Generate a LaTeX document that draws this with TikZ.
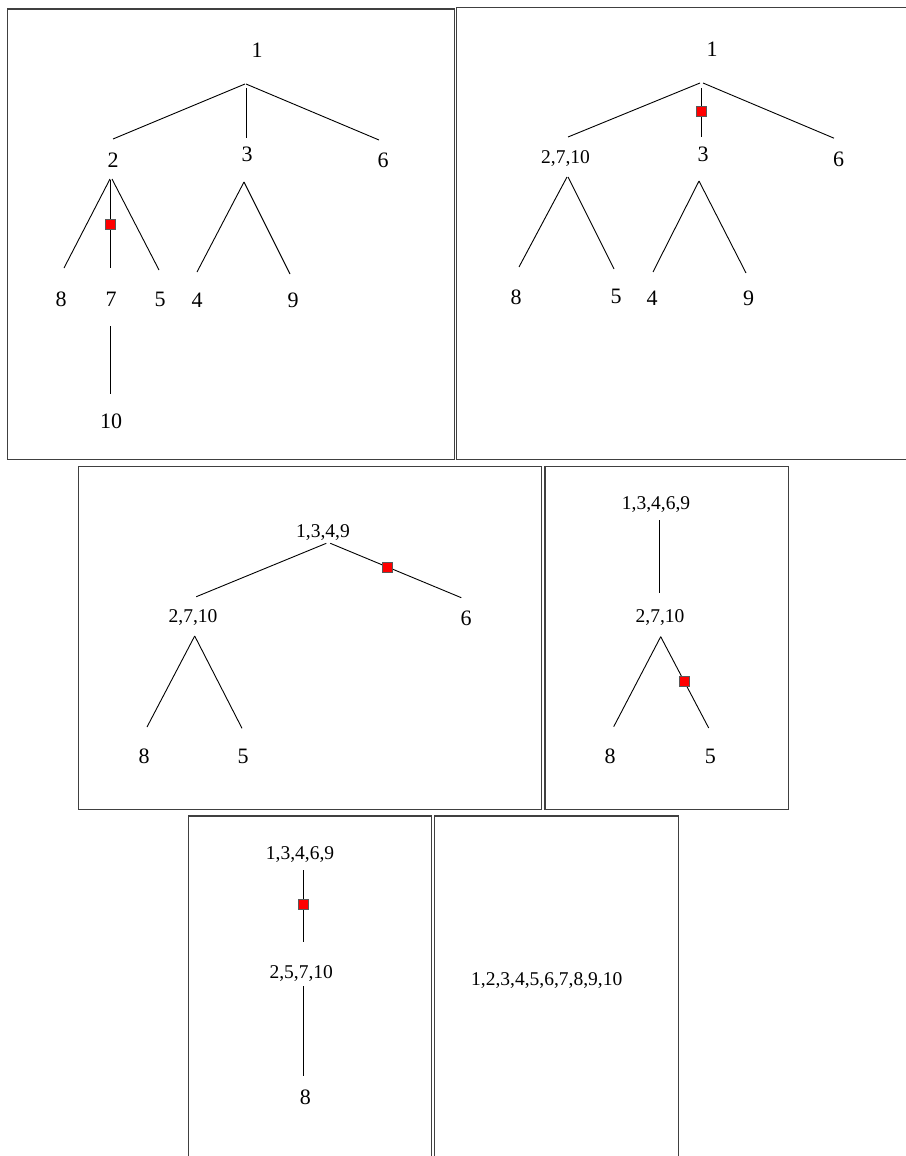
\documentclass[tikz,border=0pt]{standalone}
\usepackage{fontspec}
\setmainfont{Liberation Serif}
\usetikzlibrary{calc}
\begin{document}
\begin{tikzpicture}[x=1pt,y=-1pt,
  big/.style={inner sep=0pt, text height=14.9pt, text depth=0pt, font=\fontsize{22}{22}\selectfont},
  sml/.style={inner sep=0pt, text height=13.2pt, text depth=0pt, font=\fontsize{19.5}{19.5}\selectfont},
  edge/.style={draw=black, line width=0.9pt},
  frame/.style={draw=black!75, line width=1.2pt},
  redsq/.style={rectangle, draw=black!65, fill=red, line width=0.6pt, minimum size=10pt, inner sep=0pt}
]
\useasboundingbox (0,0) rectangle (905,1156);

% panel frames
\draw[frame] (7.5,9) rectangle (454.5,459.3);
\draw[frame] (456.7,7.3) rectangle (920,459.3);
\draw[frame] (78.3,466.7) rectangle (541.7,809.3);
\draw[frame] (545,466.7) rectangle (788.3,809.3);
\draw[frame] (188.3,816) rectangle (431.7,1170);
\draw[frame] (434.3,816) rectangle (678.3,1170);

% ---------- panel 1 ----------
\node[big] (a1) at (257,50) {1};
\node[big] (a2) at (113,160) {2};
\node[big] (a3) at (247,154) {3};
\node[big] (a6) at (383,160) {6};
\node[big] (a8) at (61,299) {8};
\node[big] (a7) at (111,299) {7};
\node[big] (a5) at (160,299) {5};
\node[big] (a4) at (197,300) {4};
\node[big] (a9) at (293,300) {9};
\node[big] (a10) at (111,421) {10};
\draw[edge] ($(a1)+(-12,34)$) -- ($(a2)+(0,-21)$);
\draw[edge] ($(a1)+(-11,38)$) -- ($(a3)+(-1,-16)$);
\draw[edge] ($(a1)+(-11,34)$) -- ($(a6)+(-4,-20)$);
\draw[edge] ($(a2)+(-3,19)$) -- ($(a8)+(3,-31)$);
\draw[edge] ($(a2)+(-3,20)$) -- node[redsq]{} ($(a7)+(-1,-31)$);
\draw[edge] ($(a2)+(-1,19)$) -- ($(a5)+(-1,-29)$);
\draw[edge] ($(a3)+(-3,28)$) -- ($(a4)+(0,-28)$);
\draw[edge] ($(a3)+(-3,28)$) -- ($(a9)+(-3,-26)$);
\draw[edge] ($(a7)+(-1,27)$) -- ($(a10)+(-1,-27)$);

% ---------- panel 2 ----------
\node[big] (b1) at (712,49.5) {1};
\node[sml] (b2) at (565.5,156.7) {2,7,10};
\node[big] (b3) at (703,154) {3};
\node[big] (b6) at (838.5,159.2) {6};
\node[big] (b8) at (516,296.7) {8};
\node[big] (b5) at (616,296) {5};
\node[big] (b4) at (652,298.3) {4};
\node[big] (b9) at (748.7,298.3) {9};
\draw[edge] ($(b1)+(-12,33.5)$) -- ($(b2)+(2.5,-19.7)$);
\draw[edge] ($(b1)+(-11,38.5)$) -- node[pos=0.47,redsq]{} ($(b3)+(-2,-17)$);
\draw[edge] ($(b1)+(-9,33.5)$) -- ($(b6)+(-4.5,-21)$);
\draw[edge] ($(b2)+(1.5,20.3)$) -- ($(b8)+(3,-29.7)$);
\draw[edge] ($(b2)+(2.5,20.3)$) -- ($(b5)+(-2,-27)$);
\draw[edge] ($(b3)+(-4,27)$) -- ($(b4)+(1,-26.3)$);
\draw[edge] ($(b3)+(-4,27)$) -- ($(b9)+(-2.7,-25.3)$);

% ---------- panel 3 ----------
\node[sml] (c1) at (323,530.7) {1,3,4,9};
\node[sml] (c2) at (193,616) {2,7,10};
\node[big] (c6) at (466,617.7) {6};
\node[big] (c8) at (144,756.5) {8};
\node[big] (c5) at (243,756.5) {5};
\draw[edge] ($(c1)+(3.3,12.6)$) -- ($(c2)+(3.3,-19.3)$);
\draw[edge] ($(c1)+(7.3,12.6)$) -- node[pos=0.435,redsq]{} ($(c6)+(-4.7,-20)$);
\draw[edge] ($(c2)+(1.7,20)$) -- ($(c8)+(3,-29.5)$);
\draw[edge] ($(c2)+(1.7,20)$) -- ($(c5)+(-1,-28.2)$);

% ---------- panel 4 ----------
\node[sml] (d1) at (656,503) {1,3,4,6,9};
\node[sml] (d2) at (660,616.3) {2,7,10};
\node[big] (d8) at (610,756.5) {8};
\node[big] (d5) at (710.3,756.5) {5};
\draw[edge] ($(d1)+(3.7,17)$) -- ($(d2)+(-0.3,-23.6)$);
\draw[edge] ($(d2)+(0.7,20.4)$) -- ($(d8)+(3.7,-29.8)$);
\draw[edge] ($(d2)+(0.7,20.4)$) -- node[pos=0.49,redsq]{} ($(d5)+(-1.6,-28.5)$);

% ---------- panel 5 ----------
\node[sml] (e1) at (300,852.8) {1,3,4,6,9};
\node[sml] (e2) at (301.2,972) {2,5,7,10};
\node[big] (e8) at (305.3,1097.5) {8};
\draw[edge] ($(e1)+(3.3,17.2)$) -- node[pos=0.47,redsq]{} ($(e2)+(2.1,-30)$);
\draw[edge] ($(e2)+(2.1,14)$) -- ($(e8)+(-2,-21.5)$);

% ---------- panel 6 ----------
\node[sml] (f1) at (546.8,978.7) {1,2,3,4,5,6,7,8,9,10};

\end{tikzpicture}
\end{document}
